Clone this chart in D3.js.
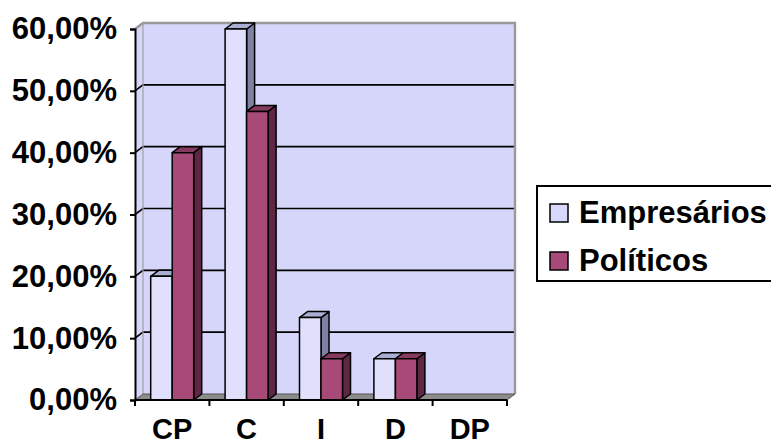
<!DOCTYPE html>
<html>
<head>
<meta charset="utf-8">
<script src="https://cdn.jsdelivr.net/npm/d3@7"></script>
<style>
  html, body { margin: 0; padding: 0; background: #ffffff; }
  svg { display: block; }
  text { font-family: "Liberation Sans", Arial, sans-serif; font-weight: bold; fill: #000; }
</style>
</head>
<body>
<svg id="chart" width="771" height="446"></svg>
<script>
// Categories and series (share of answers per group)
const categories = ["CP", "C", "I", "D", "DP"];
const seriesNames = ["Empresários", "Políticos"];
const empresarios = [0.20, 0.60, 0.1333, 0.0667, 0];
const politicos   = [0.40, 0.4667, 0.0667, 0.0667, 0];
const yTicks = [0, 0.1, 0.2, 0.3, 0.4, 0.5, 0.6];

// Face colours for each series: front, top, side
const palette = {
  "Empresários": { front: "#e0e0fd", top: "#a9aed2", side: "#7d81a3", swatch: "#d8d8fc" },
  "Políticos":   { front: "#a84a78", top: "#873a60", side: "#5e2745", swatch: "#a84a78" }
};

(function () {
const svg = d3.select("#chart");
const W = 771, H = 446;
svg.append("rect").attr("width", W).attr("height", H).attr("fill", "#fff");

// Plot frame: front plane plus a depth offset for the 3D look
const pLeft = 135, pRight = 507, pBottom = 400, pTop = 29;
const dx = 8, dy = -6;

const y = d3.scaleLinear().domain([0, 0.6]).range([pBottom, pTop]);
const x = d3.scaleBand().domain(categories).range([pLeft, pRight]).padding(0);
const xs = d3.scaleBand().domain(seriesNames)
  .range([x.bandwidth() * 0.211, x.bandwidth() * 0.789]).padding(0);

const locale = d3.formatLocale({ decimal: ",", thousands: ".", grouping: [3], currency: ["", ""] });
const pct = locale.format(".2%");

const g = svg.append("g");

// Back wall
g.append("rect")
  .attr("x", pLeft + dx).attr("y", pTop + dy)
  .attr("width", pRight - pLeft).attr("height", pBottom - pTop)
  .attr("fill", "#d6d6fa");

// Side wall strip (between the axis and the back wall)
g.append("path")
  .attr("d", `M${pLeft},${pTop} L${pLeft + dx},${pTop + dy} L${pLeft + dx},${pBottom + dy} L${pLeft},${pBottom} Z`)
  .attr("fill", "#d6d6fa");

// Gridlines on side wall and back wall
yTicks.filter(t => t > 0 && t < 0.6).forEach(t => {
  const yy = y(t);
  g.append("path")
    .attr("d", `M${pLeft},${yy} L${pLeft + dx},${yy + dy} L${pRight + dx},${yy + dy}`)
    .attr("fill", "none").attr("stroke", "#000").attr("stroke-width", 1.6);
});

// Wall edges (grey)
g.append("path")
  .attr("d", `M${pLeft},${pTop} L${pLeft + dx},${pTop + dy} L${pRight + dx},${pTop + dy} L${pRight + dx},${pBottom + dy}`)
  .attr("fill", "none").attr("stroke", "#999").attr("stroke-width", 2.4);
g.append("line")
  .attr("x1", pLeft + dx).attr("x2", pLeft + dx)
  .attr("y1", pTop + dy).attr("y2", pBottom + dy)
  .attr("stroke", "#a0a0a0").attr("stroke-width", 1.2);

// Floor
g.append("path")
  .attr("d", `M${pLeft},${pBottom} L${pRight},${pBottom} L${pRight + dx},${pBottom + dy} L${pLeft + dx},${pBottom + dy} Z`)
  .attr("fill", "#8c8c8c").attr("stroke", "#555").attr("stroke-width", 1);

// Bars as 3D prisms, drawn left to right so later fronts cover earlier sides
const bars = [];
categories.forEach((c, i) => {
  [empresarios[i], politicos[i]].forEach((v, k) => {
    bars.push({ cat: c, series: seriesNames[k], value: v });
  });
});

bars.filter(b => b.value > 0).forEach(b => {
  const x0 = x(b.cat) + xs(b.series);
  const w = xs.bandwidth();
  const yv = y(b.value);
  const col = palette[b.series];
  const bg = g.append("g").attr("stroke", "#000").attr("stroke-width", 1.5).attr("stroke-linejoin", "round");
  bg.append("path")
    .attr("d", `M${x0 + w},${yv} L${x0 + w + dx},${yv + dy} L${x0 + w + dx},${pBottom + dy} L${x0 + w},${pBottom} Z`)
    .attr("fill", col.side);
  bg.append("path")
    .attr("d", `M${x0},${yv} L${x0 + dx},${yv + dy} L${x0 + w + dx},${yv + dy} L${x0 + w},${yv} Z`)
    .attr("fill", col.top);
  bg.append("rect")
    .attr("x", x0).attr("y", yv).attr("width", w).attr("height", pBottom - yv)
    .attr("fill", col.front);
});

// Y axis
const yAxis = d3.axisLeft(y).tickValues(yTicks).tickFormat(pct).tickSize(5).tickPadding(13);
const ya = svg.append("g").attr("transform", `translate(${pLeft},0)`).call(yAxis);
ya.select(".domain").attr("stroke", "#000").attr("stroke-width", 2);
ya.selectAll(".tick line").attr("stroke", "#000").attr("stroke-width", 2);
ya.selectAll(".tick text")
  .attr("font-size", 31).attr("font-weight", "bold")
  .attr("font-family", "'Liberation Sans', Arial, sans-serif").attr("fill", "#000");

// X axis: baseline, boundary ticks, centred labels
svg.append("line")
  .attr("x1", pLeft).attr("x2", pRight).attr("y1", pBottom).attr("y2", pBottom)
  .attr("stroke", "#000").attr("stroke-width", 2);
const bounds = categories.map(c => x(c) + x.bandwidth());
svg.append("g").selectAll("line").data([pLeft].concat(bounds)).join("line")
  .attr("x1", d => d).attr("x2", d => d)
  .attr("y1", pBottom).attr("y2", pBottom + 6)
  .attr("stroke", "#000").attr("stroke-width", 2);
svg.append("g").selectAll("text").data(categories).join("text")
  .attr("x", d => x(d) + x.bandwidth() / 2)
  .attr("y", 439)
  .attr("text-anchor", "middle")
  .attr("font-size", 29)
  .text(d => d);

// Legend
const lg = svg.append("g");
lg.append("rect")
  .attr("x", 537).attr("y", 186).attr("width", 260).attr("height", 95)
  .attr("fill", "#fff").attr("stroke", "#000").attr("stroke-width", 2);
seriesNames.forEach((s, i) => {
  const yy = 204 + i * 48;
  lg.append("rect")
    .attr("x", 550).attr("y", yy).attr("width", 18).attr("height", 18)
    .attr("fill", palette[s].swatch).attr("stroke", "#000").attr("stroke-width", 1.5);
  lg.append("text")
    .attr("x", 579).attr("y", yy + 19)
    .attr("font-size", 31)
    .text(s);
});
})();
</script>
</body>
</html>
